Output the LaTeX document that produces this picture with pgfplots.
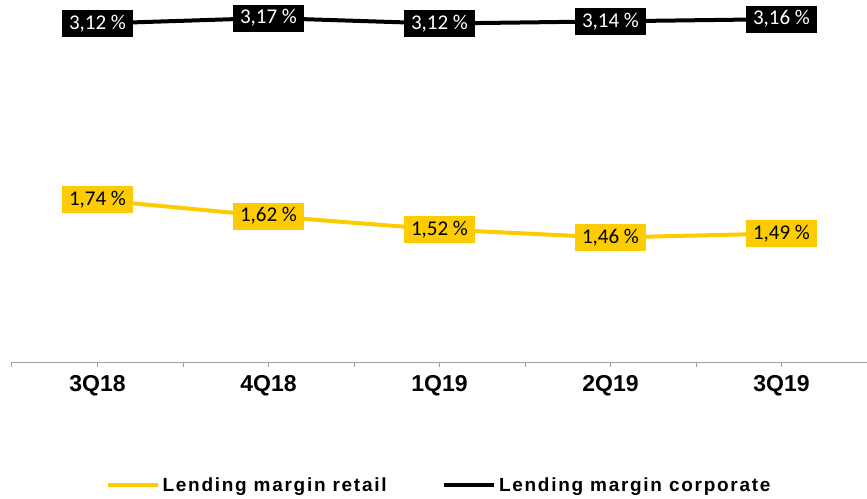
\documentclass[border=0pt]{standalone}
\usepackage{pgfplots}
\pgfplotsset{compat=1.18}
\usepackage{fontspec}
\setmainfont{Liberation Sans}
\newfontfamily\lblfont{Carlito}
\definecolor{ey}{RGB}{252,204,0}
\definecolor{axgray}{RGB}{160,160,160}
\begin{document}
\begin{tikzpicture}
\pgfplotsset{
  lblstyle/.style={
    nodes near coords={\pgfmathprintnumber{\pgfplotspointmeta}~\%},
    /pgf/number format/.cd, use comma, fixed, fixed zerofill, precision=2, assume math mode=true, /pgfplots/.cd,
  }
}
\begin{axis}[name=ax, scale only axis, width=855pt, height=362pt,
  xmin=-0.5, xmax=4.5, ymin=0.531, ymax=3.2325,
  axis x line*=bottom, axis y line=none,
  axis line style={axgray, line width=1pt},
  xtick={0,1,2,3,4}, xticklabels={3Q18,4Q18,1Q19,2Q19,3Q19},
  minor xtick={-0.5,0.5,1.5,2.5,3.5,4.5},
  tick align=outside, major tick length=5pt, minor tick length=5pt,
  tick style={axgray, line width=1pt},
  xticklabel style={font=\fontsize{23}{26}\selectfont\bfseries, yshift=-5pt},
  clip=false,
  legend style={at={(0.5,0)}, anchor=center, yshift=-123pt, draw=none, fill=none,
    font=\fontsize{19}{22}\selectfont\bfseries\addfontfeature{LetterSpace=9},
    nodes={inner xsep=3pt},
    legend columns=2,
    /tikz/every even column/.append style={column sep=52pt},
    legend cell align=left},
  legend image code/.code={\draw[#1] (0pt,0pt) -- (50pt,0pt);},
]
\addplot[ey, line width=4pt, lblstyle,
  every node near coord/.append style={anchor=center, fill=ey, text=black,
    font=\lblfont\fontsize{21}{24}\selectfont, inner xsep=7pt, inner ysep=0pt, minimum height=27pt}]
  coordinates {(0,1.74) (1,1.62) (2,1.52) (3,1.46) (4,1.49)};
\addlegendentry{Lending margin retail}
\addlegendimage{black, line width=4.5pt}
\addlegendentry{Lending margin corporate}
\end{axis}
\begin{axis}[scale only axis, width=855pt, height=362pt, at={(ax.south west)}, anchor=south west,
  xmin=-0.5, xmax=4.5, ymin=0.043, ymax=3.334, hide axis, clip=false]
\addplot[black, line width=4pt, lblstyle,
  every node near coord/.append style={anchor=center, fill=black, text=white,
    font=\lblfont\fontsize{21}{24}\selectfont, inner xsep=7pt, inner ysep=0pt, minimum height=27pt}]
  coordinates {(0,3.12) (1,3.17) (2,3.12) (3,3.14) (4,3.16)};
\end{axis}
\pgfresetboundingbox
\path[use as bounding box] ([xshift=-12pt,yshift=-136pt]ax.south west) rectangle (ax.north east);
\end{tikzpicture}
\end{document}
